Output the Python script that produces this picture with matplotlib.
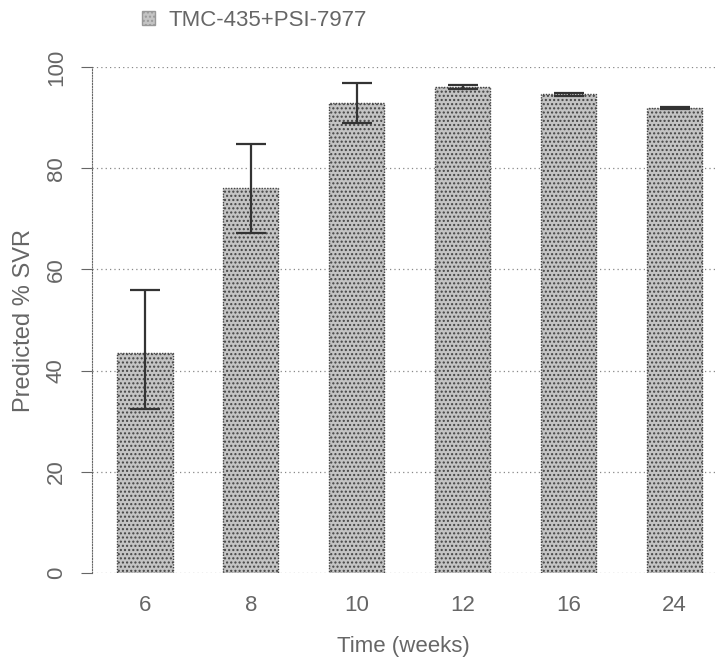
import matplotlib
matplotlib.use("Agg")
import matplotlib.pyplot as plt
import numpy as np
from matplotlib.patches import Patch

categories = ["6", "8", "10", "12", "16", "24"]
svr = [43.5, 76.0, 92.9, 96.1, 94.6, 91.9]
err_low = [32.4, 67.2, 88.9, 95.6, 94.3, 91.7]
err_high = [56.0, 84.8, 96.8, 96.5, 94.9, 92.1]
yticks = [0, 20, 40, 60, 80, 100]
series_name = "TMC-435+PSI-7977"

plt.rcParams['font.family'] = ['Liberation Sans', 'DejaVu Sans']
plt.rcParams['hatch.color'] = '#777777'
txt = '#666666'

fig = plt.figure(figsize=(7.15, 6.64), dpi=100)
ax = fig.add_axes([92/715, 1-573/664, 1-92/715, (573-67)/664])

x = np.arange(len(categories))
ax.set_axisbelow(True)
for t in yticks:
    ax.axhline(t, color='#888888', linestyle=(0, (1, 2.5)), linewidth=0.9, zorder=0)

ax.bar(x, svr, width=0.52, color='#c4c4c4', edgecolor='#444444', linewidth=1.0,
       linestyle=(0, (1, 1)), hatch='....', zorder=2)
lo = np.array(svr) - np.array(err_low)
hi = np.array(err_high) - np.array(svr)
ax.errorbar(x, svr, yerr=[lo, hi], fmt='none', ecolor='#333333', elinewidth=1.6,
            capsize=11, capthick=1.6, zorder=3)

ax.set_xlim(-0.5, 5.38)
ax.set_ylim(0, 100)
for s in ['top', 'right', 'bottom']:
    ax.spines[s].set_visible(False)
ax.spines['left'].set_linestyle((0, (1, 1.5)))
ax.spines['left'].set_color('#666666')
ax.set_yticks(yticks)
ax.set_yticklabels([str(t) for t in yticks], rotation=90, va='center', color=txt, fontsize=16)
ax.tick_params(axis='y', length=8, color='#666666', pad=10)
ax.set_xticks(x)
ax.set_xticklabels(categories, color=txt, fontsize=16)
ax.tick_params(axis='x', length=0, pad=16)
ax.set_xlabel("Time (weeks)", color=txt, fontsize=16, labelpad=14)
ax.set_ylabel("Predicted % SVR", color=txt, fontsize=17, labelpad=8)

fig.legend(handles=[Patch(facecolor='#c4c4c4', edgecolor='#999999', hatch='....')],
           labels=[series_name], loc='center left', bbox_to_anchor=(122/715, 1-20/664),
           frameon=False, fontsize=16, labelcolor=txt, handlelength=0.6, handleheight=0.6,
           handletextpad=0.6)

fig.savefig("out.png", dpi=100)
